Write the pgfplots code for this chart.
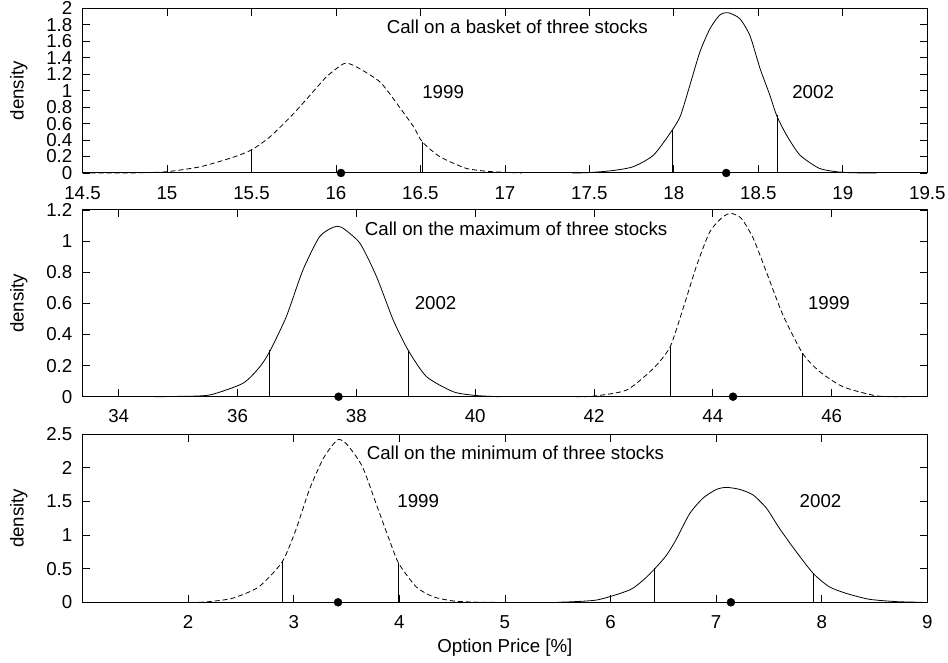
\documentclass[border=0pt]{standalone}
\usepackage{fontspec}
\setmainfont{Liberation Sans}
\usepackage{pgfplots}
\pgfplotsset{compat=1.18}
\newcommand\fs{\fontsize{18.7bp}{22bp}\selectfont}

\pgfplotsset{
  panel/.style={
    scale only axis, width=844.8bp, anchor=south west,
    clip=false,
    axis line style={line width=1bp},
    every tick/.style={black, line width=0.8bp},
    major tick length=7.5bp,
    tick label style={font=\fs, inner sep=0pt},
    label style={font=\fs},
    xticklabel shift=13bp, yticklabel shift=10bp,
    /pgf/number format/assume math mode=true,
    ymin=0,
    ylabel={density},
    ylabel style={at={(axis description cs:-0.0754,0.5)}, anchor=center},
  },
  y1999/.style={black, line width=0.8bp, dash pattern=on 5bp off 3bp, smooth, tension=0.4},
  y2002/.style={black, line width=0.8bp, smooth, tension=0.4},
  qline/.style={ycomb, black, line width=0.8bp},
  meanpt/.style={only marks, mark=*, mark size=4bp, black},
}
\tikzset{lbl/.style={anchor=west, inner sep=0pt, font=\fs}}

\begin{document}
\fs
\begin{tikzpicture}
\useasboundingbox (0bp,0bp) rectangle (948bp,663bp);

% basket
\begin{axis}[panel, at={(82.5bp,490bp)}, height=164.7bp,
  xmin=14.5, xmax=19.5, ymax=2,
  xtick={14.5,15,...,19.5}, ytick={0,0.2,...,2}]
\addplot[y1999] coordinates {
  (14.5,0) (14.8,0.001) (15.0,0.016) (15.2,0.077) (15.39,0.19) (15.5,0.28)
  (15.61,0.44) (15.73,0.68) (15.83,0.905) (15.945,1.17) (16.05,1.33)
  (16.12,1.29) (16.26,1.107) (16.36,0.845) (16.46,0.56) (16.51,0.38)
  (16.615,0.198) (16.77,0.057) (16.9,0.02) (17.0,0.008) (17.1,0)
};
\addplot[y2002] coordinates {
  (17.4,0) (17.5,0.005) (17.64,0.03) (17.76,0.077) (17.88,0.218) (17.99,0.52)
  (18.04,0.70) (18.095,1.067) (18.154,1.47) (18.213,1.75) (18.27,1.915)
  (18.32,1.947) (18.39,1.875) (18.45,1.67) (18.51,1.27) (18.568,0.945)
  (18.61,0.69) (18.667,0.46) (18.746,0.218) (18.86,0.057) (18.96,0.016)
  (19.05,0.003) (19.2,0)
};
\addplot[qline] coordinates {(15.50,0.29) (16.51,0.38) (17.99,0.52) (18.61,0.70)};
\addplot[meanpt] coordinates {(16.03,0) (18.31,0)};
\node[lbl] at (axis cs:16.30,1.77) {Call on a basket of three stocks};
\node[lbl] at (axis cs:16.51,0.98) {1999};
\node[lbl] at (axis cs:18.70,0.98) {2002};
\end{axis}

% maximum
\begin{axis}[panel, at={(82.5bp,266.3bp)}, height=186.7bp,
  xmin=33.39, xmax=47.61, ymax=1.2,
  xtick={34,36,...,46}, ytick={0,0.2,...,1.2}]
\addplot[y2002] coordinates {
  (34.6,0) (35.0,0.002) (35.53,0.011) (36.09,0.086) (36.37,0.19) (36.54,0.29)
  (36.82,0.514) (37.10,0.814) (37.38,1.028) (37.61,1.089) (37.75,1.089)
  (38.06,0.986) (38.34,0.771) (38.62,0.493) (38.87,0.30) (39.18,0.129)
  (39.63,0.032) (40.0,0.008) (40.4,0)
};
\addplot[y1999] coordinates {
  (41.7,0) (42.0,0.004) (42.55,0.043) (43.0,0.182) (43.28,0.32) (43.50,0.568)
  (43.73,0.846) (43.95,1.06) (44.17,1.157) (44.31,1.178) (44.48,1.146)
  (44.68,1.018) (44.90,0.803) (45.18,0.525) (45.51,0.279) (45.80,0.161)
  (46.19,0.064) (46.76,0.005) (47.3,0)
};
\addplot[qline] coordinates {(36.54,0.30) (38.87,0.30) (43.28,0.32) (45.51,0.28)};
\addplot[meanpt] coordinates {(37.70,0) (44.34,0)};
\node[lbl] at (axis cs:38.14,1.078) {Call on the maximum of three stocks};
\node[lbl] at (axis cs:38.98,0.6) {2002};
\node[lbl] at (axis cs:45.60,0.6) {1999};
\end{axis}

% minimum
\begin{axis}[panel, at={(82.5bp,60.7bp)}, height=168bp,
  xmin=1, xmax=9, ymax=2.5,
  xtick={2,...,9}, ytick={0,0.5,...,2.5},
  xlabel={Option Price [\%]},
  xlabel style={at={(axis description cs:0.5,-0.272)}, anchor=center}]
\addplot[y1999] coordinates {
  (2.1,0) (2.2,0.01) (2.42,0.06) (2.67,0.23) (2.89,0.60) (3.02,1.076)
  (3.147,1.67) (3.273,2.12) (3.368,2.34) (3.43,2.425) (3.51,2.34) (3.65,2.02)
  (3.78,1.47) (3.906,0.927) (3.994,0.58) (4.16,0.23) (4.32,0.083) (4.51,0.02)
  (4.7,0.003) (4.9,0)
};
\addplot[y2002] coordinates {
  (5.5,0) (5.87,0.034) (6.18,0.183) (6.31,0.33) (6.42,0.50) (6.53,0.70)
  (6.62,0.93) (6.75,1.32) (6.876,1.55) (7.003,1.68) (7.098,1.71) (7.224,1.68)
  (7.35,1.597) (7.477,1.40) (7.60,1.10) (7.76,0.75) (7.92,0.43) (8.07,0.232)
  (8.23,0.134) (8.45,0.045) (8.71,0.01) (8.95,0)
};
\addplot[qline] coordinates {(2.89,0.61) (3.99,0.58) (6.42,0.51) (7.92,0.42)};
\addplot[meanpt] coordinates {(3.42,0) (7.14,0)};
\node[lbl] at (axis cs:3.69,2.226) {Call on the minimum of three stocks};
\node[lbl] at (axis cs:3.98,1.5) {1999};
\node[lbl] at (axis cs:7.79,1.5) {2002};
\end{axis}
\end{tikzpicture}
\end{document}
